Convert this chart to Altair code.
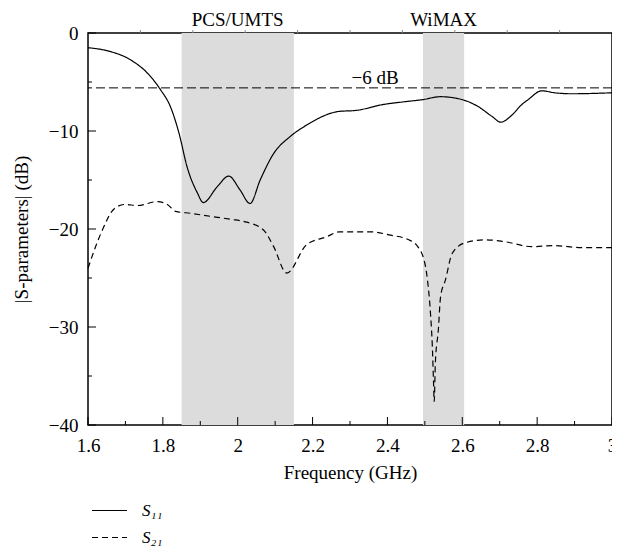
import altair as alt
import pandas as pd

# ---- data ----
s11_f = [1.6, 1.65, 1.714, 1.759, 1.794, 1.82, 1.843, 1.865, 1.892, 1.908, 1.945, 1.976,
         2.006, 2.033, 2.06, 2.096, 2.139, 2.184, 2.271, 2.316, 2.388, 2.449, 2.494, 2.542,
         2.6, 2.642, 2.679, 2.703, 2.732, 2.759, 2.776, 2.812, 2.847, 2.892, 3.0]
s11_db = [-1.5, -1.8, -2.75, -4.1, -5.8, -7.5, -10.2, -13.7, -16.3, -17.3, -15.7, -14.6,
          -16.0, -17.4, -15.0, -12.3, -10.6, -9.4, -8.0, -7.9, -7.3, -7.0, -6.8, -6.5,
          -6.8, -7.5, -8.5, -9.1, -8.4, -7.3, -6.8, -5.9, -6.1, -6.2, -6.1]

s21_f = [1.6, 1.635, 1.671, 1.698, 1.733, 1.786, 1.812, 1.834, 1.874, 1.926, 1.979, 2.024,
         2.069, 2.096, 2.131, 2.184, 2.237, 2.271, 2.361, 2.404, 2.457, 2.483, 2.502, 2.507,
         2.515, 2.52, 2.523, 2.525, 2.528, 2.536, 2.542, 2.555, 2.573, 2.608, 2.661, 2.714,
         2.785, 2.847, 2.918, 3.0]
s21_db = [-24.0, -20.4, -17.9, -17.5, -17.6, -17.2, -17.5, -18.2, -18.4, -18.7, -19.0, -19.3,
          -20.1, -21.8, -24.5, -21.6, -20.8, -20.3, -20.3, -20.6, -21.1, -21.9, -23.9, -25.2,
          -28.6, -32.0, -35.4, -37.6, -33.7, -30.3, -26.9, -25.2, -22.5, -21.4, -21.1, -21.3,
          -21.8, -21.7, -21.9, -21.9]

series_names = ["S\u2081\u2081", "S\u2082\u2081"]

band_names = ["PCS/UMTS", "WiMAX"]
band_start = [1.85, 2.495]
band_end = [2.15, 2.605]

ref_level = [-5.6]
ref_label = ["\u22126 dB"]
ref_label_f = [2.367]

x_major = [1.6, 1.8, 2.0, 2.2, 2.4, 2.6, 2.8, 3.0]
x_minor = [1.7, 1.9, 2.1, 2.3, 2.5, 2.7, 2.9]
x_top = [1.74, 1.88, 2.02, 2.16, 2.30, 2.44, 2.58, 2.72, 2.86]
y_major = [0, -10, -20, -30, -40]
y_minor = [-5, -15, -25, -35]

W, H = 524, 392
FONT = "Liberation Serif"
FS = 19

curves = pd.concat([
    pd.DataFrame({"f": s11_f, "db": s11_db, "series": series_names[0]}),
    pd.DataFrame({"f": s21_f, "db": s21_db, "series": series_names[1]}),
])
bands = pd.DataFrame({"name": band_names, "start": band_start, "end": band_end})
bands["mid"] = (bands["start"] + bands["end"]) / 2

xs = alt.Scale(domain=[1.6, 3.0], nice=False, zero=False)
ys = alt.Scale(domain=[-40, 0], nice=False, zero=False)

x_enc = alt.X("f:Q", scale=xs, axis=alt.Axis(
    values=x_major, format="~g", title="Frequency (GHz)", ticks=False, domain=False,
    grid=False, labelPadding=11, titlePadding=8, labelFlush=False, labelOverlap=False))
y_enc = alt.Y("db:Q", scale=ys, axis=alt.Axis(
    values=y_major, format="~g", title="|S-parameters| (dB)", ticks=False, domain=False,
    grid=False, labelPadding=10, titlePadding=17, labelFlush=False, labelOverlap=False))

band_rect = alt.Chart(bands).mark_rect(color="#dcdcdc").encode(
    x=alt.X("start:Q", scale=xs), x2="end:Q",
    y=alt.value(0), y2=alt.value(H))

band_text = alt.Chart(bands).mark_text(font=FONT, fontSize=FS, color="black", baseline="middle").encode(
    x=alt.X("mid:Q", scale=xs), y=alt.value(-13), text="name:N")

ref_df = pd.DataFrame({"db": ref_level, "label": ref_label, "f": ref_label_f})
ref_rule = alt.Chart(ref_df).mark_rule(color="black", strokeWidth=1, strokeDash=[9, 4]).encode(
    y=alt.Y("db:Q", scale=ys))
ref_text = alt.Chart(ref_df).mark_text(font=FONT, fontSize=FS, color="black", baseline="bottom", dy=0).encode(
    x=alt.X("f:Q", scale=xs), y=alt.Y("db:Q", scale=ys), text="label:N")

lines = alt.Chart(curves).mark_line(color="black", strokeWidth=1.2, interpolate="monotone").encode(
    x=x_enc, y=y_enc,
    strokeDash=alt.StrokeDash("series:N",
        scale=alt.Scale(domain=series_names, range=[[1, 0], [6, 4]]),
        legend=alt.Legend(title=None, orient="none", legendX=3, legendY=459,
                          symbolType="stroke", symbolSize=1225, symbolStrokeWidth=1.2,
                          symbolStrokeColor="black", labelFont=FONT, labelFontSize=17,
                          labelFontStyle="italic", labelColor="black", rowPadding=-13,
                          labelOffset=14)),
    order=alt.Order("f:Q"))


def rules_x(vals, y0, y1, color="black"):
    d = pd.DataFrame({"f": vals})
    return alt.Chart(d).mark_rule(color=color, strokeWidth=1).encode(
        x=alt.X("f:Q", scale=xs), y=alt.value(y0), y2=alt.value(y1))


def rules_y(vals, x0, x1):
    d = pd.DataFrame({"db": vals})
    return alt.Chart(d).mark_rule(color="black", strokeWidth=1).encode(
        y=alt.Y("db:Q", scale=ys), x=alt.value(x0), x2=alt.value(x1))


ticks = [rules_x(x_major, H, H - 8), rules_x(x_minor, H, H - 4),
         rules_x(x_top, 0, -3, "#888888"),
         rules_y(y_major, 0, 8), rules_y(y_minor, 0, 4)]

chart = alt.layer(band_rect, band_text, ref_rule, ref_text, lines, *ticks).properties(
    width=W, height=H,
    background="white",
    autosize=alt.AutoSizeParams(type="none"),
    padding={"left": 80, "top": 25, "right": 0, "bottom": 125},
).configure_view(stroke="black", strokeWidth=1.5).configure_axis(
    labelFont=FONT, labelFontSize=FS, labelColor="black",
    titleFont=FONT, titleFontSize=FS, titleColor="black", titleFontWeight="normal",
)

chart.save("out.html", embed_options={"renderer": "svg", "actions": False})
